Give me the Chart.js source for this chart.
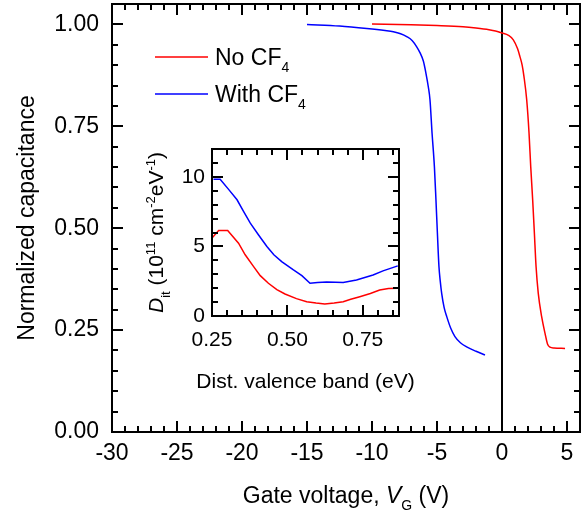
<!DOCTYPE html>
<html><head><meta charset="utf-8">
<script src="https://cdn.jsdelivr.net/npm/chart.js@4.4.1/dist/chart.umd.min.js"></script>
<style>
html,body{margin:0;padding:0;background:#fff;}
#inset{position:absolute;left:130px;top:135px;}
</style></head><body>
<canvas id="main" width="582" height="518" style="width:582px;height:518px"></canvas>
<canvas id="inset" width="290" height="265" style="width:290px;height:265px"></canvas>
<script>
// ---------- data ----------
const mainXTicks = [-30, -25, -20, -15, -10, -5, 0, 5];
const mainYTicks = [0, 0.25, 0.5, 0.75, 1.0];
const insetXTicks = [0.25, 0.5, 0.75];
const insetYTicks = [0, 5, 10];

const seriesNames = ['No CF4', 'With CF4'];

const noCF4V = [-10, -7, -5, -3, -2, -1, -0.5, 0, 0.5, 0.87, 1.2, 1.38, 1.55, 1.69, 1.9, 2.08, 2.21, 2.36, 2.49, 2.62, 2.79, 3.05, 3.31, 3.5, 3.7, 4.0, 4.85];
const noCF4C = [1.001, 0.999, 0.997, 0.994, 0.991, 0.987, 0.984, 0.979, 0.973, 0.962, 0.94, 0.921, 0.90, 0.872, 0.815, 0.733, 0.651, 0.569, 0.488, 0.406, 0.34, 0.283, 0.242, 0.216, 0.208, 0.206, 0.205];

const withCF4V = [-15, -12.5, -10.4, -9, -8.36, -7.8, -7.33, -6.9, -6.56, -6.3, -6.05, -5.85, -5.67, -5.54, -5.38, -5.2, -5.08, -4.97, -4.85, -4.75, -4.64, -4.45, -4.25, -3.95, -3.62, -3.2, -2.72, -2.0, -1.31];
const withCF4C = [1.0, 0.996, 0.99, 0.985, 0.982, 0.977, 0.97, 0.96, 0.945, 0.93, 0.91, 0.88, 0.847, 0.815, 0.733, 0.651, 0.569, 0.488, 0.406, 0.37, 0.34, 0.305, 0.283, 0.255, 0.234, 0.219, 0.209, 0.198, 0.189];

const zeroLineV = [0, 0];
const zeroLineC = [0, 1.05];

const ditNoX = [0.25, 0.272, 0.302, 0.338, 0.36, 0.388, 0.41, 0.437, 0.465, 0.492, 0.53, 0.564, 0.595, 0.624, 0.655, 0.685, 0.71, 0.74, 0.775, 0.806, 0.835, 0.866];
const ditNoY = [5.6, 6.14, 6.14, 5.23, 4.4, 3.55, 2.9, 2.35, 1.9, 1.58, 1.25, 1.03, 0.93, 0.86, 0.93, 1.03, 1.2, 1.39, 1.62, 1.87, 1.97, 1.99];
const ditWithX = [0.255, 0.277, 0.305, 0.333, 0.355, 0.377, 0.405, 0.432, 0.455, 0.481, 0.52, 0.548, 0.575, 0.6, 0.63, 0.66, 0.685, 0.729, 0.784, 0.817, 0.866];
const ditWithY = [9.83, 9.83, 9.1, 8.35, 7.5, 6.67, 5.8, 4.99, 4.4, 3.91, 3.31, 2.9, 2.35, 2.4, 2.45, 2.42, 2.4, 2.59, 2.95, 3.24, 3.6];

// ---------- text ----------
const FAM = "'Liberation Sans', Arial, sans-serif";
const mainXTitle = [{t:'Gate voltage, '},{t:'V',italic:true},{t:'G',sub:true},{t:' (V)'}];
const mainYTitle = [{t:'Normalized capacitance'}];
const insetXTitle = [{t:'Dist. valence band (eV)'}];
const insetYTitle = [{t:'D',italic:true},{t:'it',sub:true},{t:' (10'},{t:'11',sup:true},{t:' cm'},{t:'-2',sup:true},{t:'eV'},{t:'-1',sup:true},{t:')'}];
const legendTexts = [[{t:'No CF'},{t:'4',sub:true}], [{t:'With CF'},{t:'4',sub:true}]];

const zip = (xs, ys) => xs.map((x, i) => ({x, y: ys[i]}));

function fontFor(s, size) {
  const sz = (s.sub || s.sup) ? Math.round(size * 0.62) : size;
  return (s.italic ? 'italic ' : '') + sz + 'px ' + FAM;
}
function richWidth(ctx, segs, size) {
  let w = 0;
  segs.forEach(s => { ctx.font = fontFor(s, size); w += ctx.measureText(s.t).width; });
  return w;
}
function drawRich(ctx, segs, x, y, size, align) {
  const w = richWidth(ctx, segs, size);
  let cx = align === 'left' ? x : x - w / 2;
  ctx.textAlign = 'left';
  ctx.textBaseline = 'alphabetic';
  segs.forEach(s => {
    ctx.font = fontFor(s, size);
    const dy = s.sub ? size * 0.32 : (s.sup ? -size * 0.4 : 0);
    ctx.fillText(s.t, cx, y + dy);
    cx += ctx.measureText(s.t).width;
  });
}

// frame with inward ticks on all four sides, placed through the chart's scales
function drawFrame(chart, o) {
  const ctx = chart.ctx, a = chart.chartArea;
  const xs = chart.scales.x, ys = chart.scales.y;
  ctx.save();
  ctx.strokeStyle = '#000';
  ctx.lineWidth = 2;
  const seg = (x1, y1, x2, y2) => { ctx.beginPath(); ctx.moveTo(x1, y1); ctx.lineTo(x2, y2); ctx.stroke(); };
  const isMajor = (v, arr, step) => arr.some(m => Math.abs(m - v) < step / 10);
  let n = Math.floor((xs.max - xs.min) / o.xMinor + 1e-6);
  for (let i = 0; i <= n; i++) {
    const v = xs.min + i * o.xMinor;
    const p = Math.round(xs.getPixelForValue(v));
    const L = isMajor(v, o.xMajor, o.xMinor) ? o.majorLen : o.minorLen;
    seg(p, a.bottom, p, a.bottom - L);
    seg(p, a.top, p, a.top + L);
  }
  n = Math.floor((ys.max - ys.min) / o.yMinor + 1e-6);
  for (let i = 0; i <= n; i++) {
    const v = ys.min + i * o.yMinor;
    const p = Math.round(ys.getPixelForValue(v));
    const L = isMajor(v, o.yMajor, o.yMinor) ? o.majorLen : o.minorLen;
    seg(a.left, p, a.left + L, p);
    seg(a.right, p, a.right - L, p);
  }
  ctx.beginPath();
  ctx.rect(a.left, a.top, a.right - a.left, a.bottom - a.top);
  ctx.stroke();
  ctx.restore();
}

function makeDecor(o) {
  return {
    id: 'decor',
    afterDraw(chart) {
      const ctx = chart.ctx, a = chart.chartArea;
      drawFrame(chart, o.frame);
      ctx.save();
      ctx.fillStyle = '#000';
      const cx = (a.left + a.right) / 2, cy = (a.top + a.bottom) / 2;
      drawRich(ctx, o.x, cx, o.xBase, o.size, 'center');
      ctx.translate(o.yBase, cy);
      ctx.rotate(-Math.PI / 2);
      drawRich(ctx, o.y, 0, 0, o.size, 'center');
      ctx.restore();
      if (o.legend) {
        ctx.save();
        chart.data.datasets.forEach((ds, i) => {
          if (i >= legendTexts.length) return;
          const ly = o.legend.y0 + i * o.legend.dy;
          ctx.strokeStyle = ds.borderColor;
          ctx.lineWidth = ds.borderWidth;
          ctx.beginPath(); ctx.moveTo(o.legend.x0, ly); ctx.lineTo(o.legend.x1, ly); ctx.stroke();
          ctx.fillStyle = '#000';
          drawRich(ctx, legendTexts[i], o.legend.tx, ly + 8, o.size, 'left');
        });
        ctx.restore();
      }
    }
  };
}

const noPadX = s => { s.paddingLeft = 0; s.paddingRight = 0; };
const noPadY = s => { s.paddingTop = 0; s.paddingBottom = 0; };
const tickFont = size => ({family: FAM, size: size});

new Chart(document.getElementById('main'), {
  type: 'scatter',
  data: {
    datasets: [
      {label: seriesNames[0], data: zip(noCF4V, noCF4C), borderColor: '#ff0000', borderWidth: 1.5, showLine: true, pointRadius: 0, cubicInterpolationMode: 'monotone'},
      {label: seriesNames[1], data: zip(withCF4V, withCF4C), borderColor: '#0000ff', borderWidth: 1.5, showLine: true, pointRadius: 0, cubicInterpolationMode: 'monotone'},
      {label: 'zero', data: zip(zeroLineV, zeroLineC), borderColor: '#000', borderWidth: 2, showLine: true, pointRadius: 0}
    ]
  },
  options: {
    responsive: false, animation: false, events: [],
    layout: {padding: {left: 0, right: 2, top: 4, bottom: 0}},
    plugins: {legend: {display: false}, tooltip: {enabled: false}},
    scales: {
      x: {type: 'linear', min: -30, max: 6,
          afterBuildTicks: s => { s.ticks = mainXTicks.map(v => ({value: v})); },
          afterFit: s => { s.height = 86; noPadX(s); },
          grid: {display: false, drawTicks: false}, border: {display: false},
          ticks: {padding: 8, font: tickFont(23), color: '#000', maxRotation: 0, autoSkip: false, callback: v => String(v)}},
      y: {type: 'linear', min: 0, max: 1.05,
          afterBuildTicks: s => { s.ticks = mainYTicks.map(v => ({value: v})); },
          afterFit: s => { s.width = 112; noPadY(s); },
          grid: {display: false, drawTicks: false}, border: {display: false},
          ticks: {padding: 13, font: tickFont(23), color: '#000', autoSkip: false, callback: v => Number(v).toFixed(2)}}
    }
  },
  plugins: [
    makeDecor({frame: {xMajor: mainXTicks, xMinor: 1, yMajor: mainYTicks, yMinor: 0.05, majorLen: 11, minorLen: 6},
               x: mainXTitle, y: mainYTitle, size: 23, xBase: 503, yBase: 34,
               legend: {x0: 155, x1: 208, tx: 215, y0: 57, dy: 37}})
  ]
});

new Chart(document.getElementById('inset'), {
  type: 'scatter',
  data: {
    datasets: [
      {label: 'No CF4', data: zip(ditNoX, ditNoY), borderColor: '#ff0000', borderWidth: 1.5, showLine: true, pointRadius: 0},
      {label: 'With CF4', data: zip(ditWithX, ditWithY), borderColor: '#0000ff', borderWidth: 1.5, showLine: true, pointRadius: 0}
    ]
  },
  options: {
    responsive: false, animation: false, events: [],
    layout: {padding: {left: 0, right: 21, top: 14, bottom: 0}},
    plugins: {legend: {display: false}, tooltip: {enabled: false}},
    scales: {
      x: {type: 'linear', min: 0.25, max: 0.87,
          afterBuildTicks: s => { s.ticks = insetXTicks.map(v => ({value: v})); },
          afterFit: s => { s.height = 84; noPadX(s); },
          grid: {display: false, drawTicks: false}, border: {display: false},
          ticks: {padding: 12, font: tickFont(21), color: '#000', maxRotation: 0, autoSkip: false, callback: v => Number(v).toFixed(2)}},
      y: {type: 'linear', min: 0, max: 12,
          afterBuildTicks: s => { s.ticks = insetYTicks.map(v => ({value: v})); },
          afterFit: s => { s.width = 82; noPadY(s); },
          grid: {display: false, drawTicks: false}, border: {display: false},
          ticks: {padding: 7, font: tickFont(21), color: '#000', autoSkip: false, callback: v => String(v)}}
    }
  },
  plugins: [
    makeDecor({frame: {xMajor: insetXTicks, xMinor: 0.05, yMajor: insetYTicks, yMinor: 1, majorLen: 11, minorLen: 6},
               x: insetXTitle, y: insetYTitle, size: 21, xBase: 388 - 135, yBase: 163 - 130})
  ]
});
</script>
</body></html>
